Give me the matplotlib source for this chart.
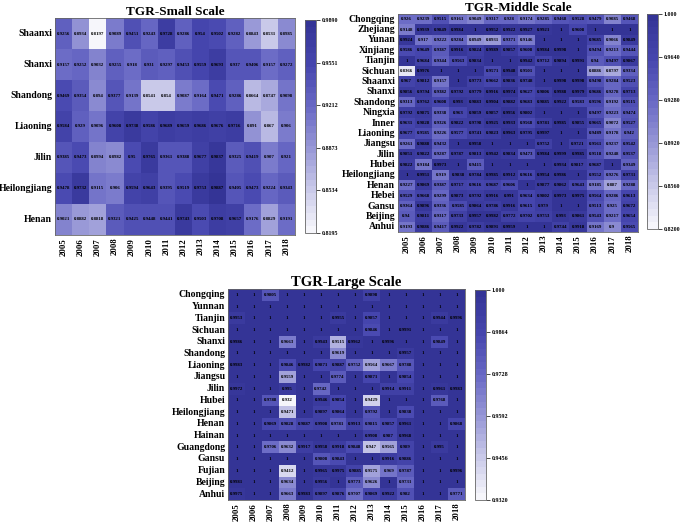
import numpy as np
import matplotlib
matplotlib.use("Agg")
import matplotlib.pyplot as plt
from matplotlib.colors import LinearSegmentedColormap
import seaborn as sns

years = [str(y) for y in range(2005, 2019)]

small_rows = ["Shaanxi", "Shanxi", "Shandong", "Liaoning", "Jilin", "Heilongjiang", "Henan"]
small_vals = [
    [0.9256, 0.8934, 0.8197, 0.9089, 0.9451, 0.9243, 0.9728, 0.9286, 0.954, 0.9502, 0.9282, 0.8843, 0.8531, 0.8985],
    [0.9157, 0.9252, 0.9032, 0.9255, 0.918, 0.931, 0.9297, 0.9453, 0.9559, 0.9693, 0.937, 0.9406, 0.9157, 0.9272],
    [0.9469, 0.9354, 0.894, 0.9377, 0.9139, 0.8541, 0.854, 0.9087, 0.9164, 0.9471, 0.9286, 0.8664, 0.8747, 0.9098],
    [0.9584, 0.929, 0.9096, 0.9608, 0.9738, 0.9586, 0.9689, 0.9659, 0.9686, 0.9676, 0.9716, 0.891, 0.867, 0.906],
    [0.9385, 0.9473, 0.8994, 0.8982, 0.95, 0.9765, 0.9361, 0.9388, 0.9677, 0.9837, 0.9325, 0.9419, 0.907, 0.921],
    [0.9478, 0.9732, 0.9115, 0.906, 0.9594, 0.9643, 0.9395, 0.9519, 0.9753, 0.9887, 0.9405, 0.9473, 0.9224, 0.9343],
    [0.9021, 0.8882, 0.8818, 0.9321, 0.9425, 0.9448, 0.9441, 0.9743, 0.9503, 0.9708, 0.9657, 0.9176, 0.8829, 0.9191],
]

middle_rows = ["Chongqing", "Zhejiang", "Yunan", "Xinjiang", "Tianjin", "Sichuan", "Shaanxi", "Shanxi",
               "Shandong", "Ningxia", "Inner", "Liaoning", "Jiangsu", "Jilin", "Hubei", "Heilongjiang",
               "Henan", "Hebei", "Gansu", "Beijing", "Anhui"]
middle_vals = [
    [0.926, 0.9239, 0.9515, 0.9161, 0.9049, 0.9317, 0.928, 0.9174, 0.9285, 0.9468, 0.9528, 0.9479, 0.9085, 0.9468],
    [0.9148, 0.9939, 0.9849, 0.9984, 1, 0.9952, 0.9922, 0.9927, 0.9921, 1, 0.9608, 1, 1, 1],
    [0.9924, 0.917, 0.9222, 0.9284, 0.8949, 0.8931, 0.9371, 0.9146, 1, 1, 1, 0.9685, 0.9066, 0.9849],
    [0.9586, 0.9649, 0.9387, 0.9916, 0.9824, 0.9989, 0.9857, 0.9608, 0.9984, 0.9998, 1, 0.9494, 0.9213, 0.9444],
    [1, 0.9684, 0.9344, 0.9563, 0.9834, 1, 1, 0.9942, 0.9712, 0.9894, 0.9991, 0.94, 0.9497, 0.9867],
    [0.8366, 0.9976, 1, 1, 1, 0.9571, 0.9948, 0.9501, 1, 1, 1, 0.8886, 0.8797, 0.9334],
    [0.967, 0.9812, 0.9157, 1, 0.9773, 0.9662, 0.9836, 0.9748, 1, 0.9998, 0.9998, 0.9498, 0.9284, 0.9523],
    [0.9856, 0.9794, 0.9382, 0.9792, 0.9779, 0.9916, 0.9974, 0.9627, 0.9806, 0.9988, 0.9979, 0.9686, 0.9278, 0.9713],
    [0.9313, 0.9762, 0.9608, 0.993, 0.9883, 0.9904, 0.9882, 0.9683, 0.9885, 0.9922, 0.9583, 0.9596, 0.9192, 0.9515],
    [0.9792, 0.9875, 0.9338, 0.963, 0.9859, 0.9857, 0.9956, 0.9802, 1, 1, 1, 0.9497, 0.9223, 0.9474],
    [0.9631, 0.9828, 0.9326, 0.9822, 0.9798, 0.9925, 0.9933, 0.9568, 0.9781, 0.9985, 0.9855, 0.9665, 0.9072, 0.9527],
    [0.9677, 0.9585, 0.9226, 0.9577, 0.9741, 0.9823, 0.9963, 0.9795, 0.9997, 1, 1, 0.9489, 0.9178, 0.942],
    [0.9261, 0.9888, 0.9432, 1, 0.9958, 1, 1, 1, 0.9752, 1, 0.9721, 0.9561, 0.9237, 0.9542],
    [0.9851, 0.9822, 0.9287, 0.9787, 0.9813, 0.9942, 0.9834, 0.9473, 0.9984, 0.9999, 0.9985, 0.9518, 0.9248, 0.9537],
    [0.9822, 0.9184, 0.9973, 1, 0.9415, 1, 1, 1, 1, 0.9934, 0.9817, 0.9687, 1, 0.9349],
    [1, 0.9951, 0.919, 0.9838, 0.9784, 0.9985, 0.9912, 0.9616, 0.9954, 0.9986, 1, 0.9552, 0.9276, 0.9731],
    [0.9227, 0.9869, 0.9387, 0.9717, 0.9616, 0.9687, 0.9606, 1, 0.9877, 0.9862, 0.9643, 0.9185, 0.887, 0.9288],
    [0.9529, 0.9668, 0.9299, 0.9873, 0.9792, 0.9916, 0.991, 0.9634, 0.9802, 0.9973, 0.9975, 0.9564, 0.9286, 0.9613],
    [0.9364, 0.9896, 0.9336, 0.9585, 0.9864, 0.9786, 0.9916, 0.9615, 0.979, 1, 1, 0.9513, 0.925, 0.9672],
    [0.94, 0.9811, 0.9317, 0.9733, 0.9957, 0.9982, 0.9772, 0.9702, 0.9753, 0.993, 0.9861, 0.9543, 0.9217, 0.9654],
    [0.9193, 0.9886, 0.9417, 0.9922, 0.9782, 0.9891, 0.9959, 1, 1, 0.9744, 0.9918, 0.9169, 0.9, 0.9565],
]

large_rows = ["Chongqing", "Yunnan", "Tianjin", "Sichuan", "Shanxi", "Shandong", "Liaoning", "Jiangsu", "Jilin",
              "Hubei", "Heilongjiang", "Henan", "Hainan", "Guangdong", "Gansu", "Fujian", "Beijing", "Anhui"]
large_vals = [
    [1, 1, 0.9805, 1, 1, 1, 1, 1, 0.9898, 1, 1, 1, 1, 1],
    [1, 1, 1, 1, 1, 1, 1, 1, 1, 1, 1, 1, 1, 1],
    [0.9953, 1, 1, 1, 1, 1, 0.9955, 1, 0.9857, 1, 1, 1, 0.9944, 0.9996],
    [1, 1, 1, 1, 1, 1, 1, 1, 0.9846, 1, 0.9991, 1, 1, 1],
    [0.9986, 1, 1, 0.9663, 1, 0.9943, 0.9515, 0.9962, 1, 0.9996, 1, 1, 0.9849, 1],
    [1, 1, 1, 1, 1, 1, 0.9619, 1, 1, 1, 0.9957, 1, 1, 1],
    [0.9983, 1, 1, 0.9846, 0.9982, 0.9871, 0.9887, 0.9752, 0.9564, 0.9667, 0.9788, 1, 1, 1],
    [1, 1, 1, 0.9559, 1, 1, 0.9774, 1, 0.9871, 1, 0.9854, 1, 1, 1],
    [0.9972, 1, 1, 0.995, 1, 0.9742, 1, 1, 1, 0.9914, 0.9911, 1, 0.9961, 0.9983],
    [1, 1, 0.9788, 0.932, 1, 0.9946, 0.9854, 1, 0.9429, 1, 1, 1, 0.9768, 1],
    [1, 1, 1, 0.9471, 1, 0.9897, 0.9864, 1, 0.9792, 1, 0.9838, 1, 1, 1],
    [1, 1, 0.9869, 0.9828, 0.9887, 0.9908, 0.9781, 0.9913, 0.9815, 0.9857, 0.9961, 1, 1, 0.9868],
    [1, 1, 1, 1, 1, 1, 1, 1, 0.9908, 0.987, 0.9968, 1, 1, 1],
    [1, 1, 0.9706, 0.9632, 0.9917, 0.9958, 0.9918, 0.9848, 0.947, 0.9565, 0.989, 1, 0.995, 1],
    [1, 1, 1, 1, 1, 0.9808, 0.9843, 1, 1, 0.9916, 0.9886, 1, 1, 1],
    [1, 1, 1, 0.9412, 1, 0.9965, 0.9975, 0.9885, 0.9575, 0.969, 0.9787, 1, 1, 0.9996],
    [0.9981, 1, 1, 0.9634, 1, 0.9956, 1, 0.9773, 0.9626, 1, 0.9731, 1, 1, 1],
    [0.9975, 1, 1, 0.9663, 0.9983, 0.9897, 0.9876, 0.9707, 0.9869, 0.9922, 0.982, 1, 1, 0.9771],
]

small_range = (0.8195, 0.9890)
middle_range = (0.8200, 1.000)
large_range = (0.9320, 1.000)

plt.rcParams["font.family"] = ["Liberation Serif", "DejaVu Serif"]
plt.rcParams["font.weight"] = "bold"

# light lavender -> indigo, stepped like the original colour bar
cmap = LinearSegmentedColormap.from_list(
    "tgr", ["#f6f6fb", "#c8c8e8", "#9696d6", "#6868c4", "#4646ae", "#343496"], N=32)

fig = plt.figure(figsize=(6.85, 5.25), dpi=100)


def draw(vals, rows, rng, hm_rect, cb_rect, title, title_fs, cb_labels):
    ax = fig.add_axes(hm_rect)
    cax = fig.add_axes(cb_rect)
    data = np.array(vals, dtype=float)
    sns.heatmap(data, ax=ax, cbar_ax=cax, cmap=cmap, vmin=rng[0], vmax=rng[1],
                annot=True, fmt="g", annot_kws={"fontsize": 3.5, "color": "black", "fontweight": "bold"},
                xticklabels=years, yticklabels=rows, linewidths=0)
    ax.set_title(title, fontsize=title_fs, fontweight="bold", pad=2)
    ax.tick_params(axis="both", length=0, pad=2)
    ax.set_yticklabels(rows, rotation=0, fontsize=7, fontweight="bold")
    ax.set_xticklabels(years, rotation=90, fontsize=6.3, fontweight="bold")
    for s in ax.spines.values():
        s.set_visible(True)
        s.set_color("#666666")
        s.set_linewidth(0.6)
    ticks = np.linspace(rng[0], rng[1], 6)
    cbar = ax.collections[0].colorbar
    cbar.set_ticks(ticks)
    cbar.set_ticklabels(cb_labels, fontsize=4.3)
    cax.tick_params(length=3, width=0.5, pad=1)
    cbar.outline.set_linewidth(0.6)
    cbar.outline.set_edgecolor("#666666")


draw(small_vals, small_rows, small_range,
     [0.0803, 0.5524, 0.3504, 0.4133], [0.4453, 0.5562, 0.016, 0.4057],
     "TGR-Small Scale", 9.5,
     ["0.8195", "0.8534", "0.8873", "0.9212", "0.9551", "0.9890"])

draw(middle_vals, middle_rows, middle_range,
     [0.581, 0.5581, 0.3504, 0.4152], [0.9445, 0.5638, 0.016, 0.4095],
     "TGR-Middle Scale", 9.5,
     ["0.8200", "0.8560", "0.8920", "0.9280", "0.9640", "1.000"])

draw(large_vals, large_rows, large_range,
     [0.3328, 0.0476, 0.346, 0.4019], [0.6934, 0.0476, 0.016, 0.40],
     "TGR-Large Scale", 10.5,
     ["0.9320", "0.9456", "0.9592", "0.9728", "0.9864", "1.000"])

fig.savefig("out.png", dpi=100)
